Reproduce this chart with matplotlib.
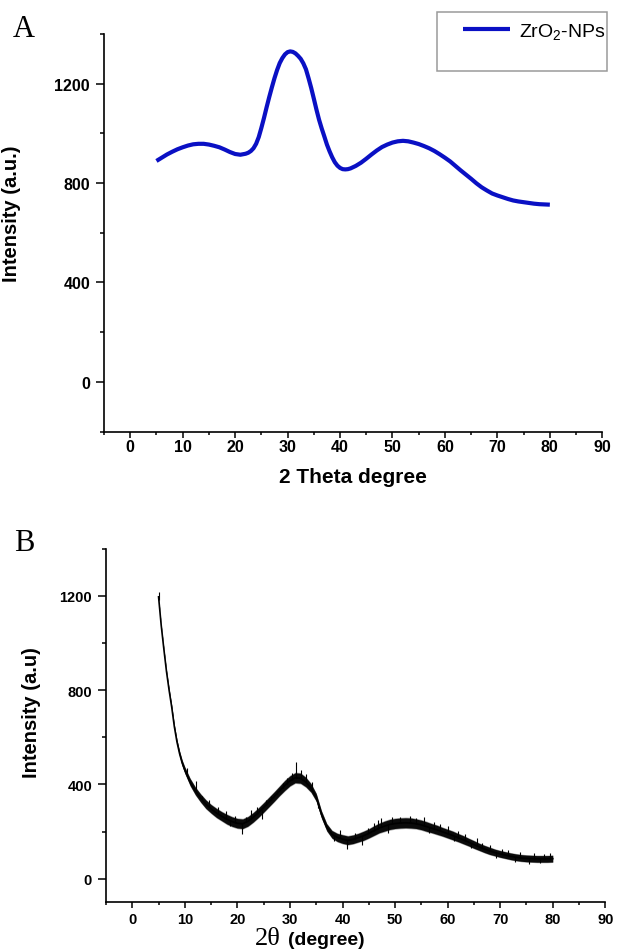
import numpy as np
import matplotlib
matplotlib.use("Agg")
import matplotlib.pyplot as plt
from matplotlib.patches import Rectangle

plt.rcParams["font.family"] = ["Liberation Sans", "DejaVu Sans"]
plt.rcParams["mathtext.default"] = "regular"

# ---- Panel A: ZrO2-NPs profile ----
two_theta_a = [5, 6, 7, 8, 9, 10, 11, 12, 13, 14, 15, 16, 17, 18, 19, 20,
               21, 22, 22.5, 23, 23.5, 24, 24.5, 25, 25.5, 26, 26.5, 27,
               27.5, 28, 28.5, 29, 29.5, 30, 30.5, 31, 31.5, 32, 32.5, 33,
               33.5, 34, 34.5, 35, 35.5, 36, 36.5, 37, 37.5, 38, 38.5, 39,
               39.5, 40, 40.5, 41, 41.5, 42, 43, 44, 45, 46, 47, 48, 49, 50,
               51, 52, 53, 54, 55, 56, 57, 58, 59, 60, 61, 62, 63, 64, 65,
               66, 67, 68, 69, 70, 71, 72, 73, 74, 75, 76, 77, 78, 79, 80]
intensity_a = [889, 902, 915, 926, 936, 944, 951, 956, 958, 958, 955, 950,
               944, 935, 925, 917, 914, 918, 922, 929, 940, 958, 985, 1022,
               1062, 1105, 1146, 1185, 1222, 1255, 1283, 1303, 1318, 1327,
               1330, 1328, 1322, 1312, 1300, 1282, 1258, 1222, 1183, 1140,
               1096, 1055, 1020, 988, 955, 928, 904, 884, 870, 861, 856, 855,
               856, 859, 869, 882, 898, 915, 931, 945, 955, 963, 968, 970,
               968, 963, 957, 949, 940, 929, 916, 902, 887, 869, 851, 834,
               817, 799, 783, 770, 758, 750, 743, 736, 730, 726, 723, 720,
               717, 715, 714, 713]

# ---- Panel B: measured pattern (centre line, noise band, spikes) ----
two_theta_b = [5.0, 5.5, 6.0, 6.5, 7.0, 7.5, 8.0, 8.5, 9.0, 9.5, 10, 11, 12,
               13, 14, 15, 16, 17, 18, 19, 20, 21, 22, 23, 24, 25, 26, 27,
               28, 29, 30, 31, 32, 33, 34, 35, 36, 37, 38, 39, 40, 41, 42,
               43, 44, 45, 46, 47, 48, 49, 50, 51, 52, 53, 54, 55, 56, 57,
               58, 59, 60, 61, 62, 63, 64, 65, 66, 67, 68, 69, 70, 71, 72,
               73, 74, 75, 76, 77, 78, 79, 80]
intensity_b = [1195, 1075, 975, 880, 800, 728, 645, 580, 530, 490, 460, 410,
               372, 342, 316, 296, 279, 265, 252, 242, 235, 233, 243, 260,
               280, 302, 325, 348, 372, 395, 415, 428, 426, 410, 385, 345,
               272, 218, 188, 175, 168, 163, 167, 174, 182, 192, 204, 215,
               223, 230, 234, 236, 237, 236, 233, 228, 221, 214, 207, 199,
               191, 183, 174, 165, 155, 145, 135, 126, 118, 111, 105, 100,
               95, 91, 88, 86, 85, 84, 84, 84, 85]
noise_half_b = [4, 4, 5, 6, 7, 8, 9, 10, 11, 12, 13, 15, 16, 17, 18, 18, 19,
                19, 20, 20, 20, 20, 20, 20, 20, 20, 20, 20, 20, 21, 21, 21,
                21, 20, 18, 16, 15, 15, 16, 17, 18, 18, 18, 18, 19, 19, 20,
                20, 21, 21, 21, 21, 21, 21, 20, 20, 20, 19, 19, 18, 18, 18,
                17, 17, 16, 16, 15, 15, 15, 14, 14, 14, 14, 14, 14, 14, 14,
                14, 14, 14, 14]
spike_x = [5.05, 10.5, 12.2, 13.2, 14.6, 16.3, 17.8, 18.5, 19.6, 20.8, 21.7,
           22.6, 23.8, 24.6, 25.4, 26.3, 27.5, 28.6, 29.4, 30.3, 31.2, 32.1,
           33.0, 34.2, 35.3, 38.4, 39.5, 40.9, 42.3, 43.7, 44.8, 46.0, 46.8,
           47.4, 48.6, 49.4, 51.0, 52.8, 54.0, 55.5, 56.4, 57.4, 58.6, 60.1,
           61.2, 62.0, 63.4, 64.5, 65.6, 66.5, 68.1, 69.2, 70.4, 71.5, 72.8,
           73.8, 75.5, 76.4, 77.6, 78.4, 79.5]
spike_y = [1215, 470, 415, 350, 335, 305, 285, 222, 265, 190, 262, 292, 303,
           255, 335, 352, 372, 405, 428, 448, 495, 460, 442, 410, 300, 160,
           205, 126, 195, 145, 215, 235, 248, 258, 195, 262, 262, 267, 258,
           260, 195, 240, 232, 222, 160, 203, 190, 130, 172, 150, 145, 88,
           128, 120, 70, 115, 62, 108, 66, 106, 108]

fig = plt.figure(figsize=(6.18, 9.53), dpi=100)
W, H = 618, 953


def px_axes(left, right, top, bottom):
    return fig.add_axes([left / W, 1 - bottom / H,
                         (right - left) / W, (bottom - top) / H])


def style_axes(ax, label_size, ylen, xlen, ypad, xpad):
    for side in ("top", "right"):
        ax.spines[side].set_visible(False)
    for side in ("left", "bottom"):
        ax.spines[side].set_linewidth(1.2)
    ax.set_xlim(-5, 90)
    ax.set_xticks(range(0, 91, 10))
    ax.set_xticks(range(-5, 91, 10), minor=True)
    ax.tick_params(axis="both", which="both", direction="out", width=1.1,
                   colors="black", labelsize=label_size)
    ax.tick_params(axis="y", which="major", length=ylen, pad=ypad)
    ax.tick_params(axis="y", which="minor", length=ylen * 0.5)
    ax.tick_params(axis="x", which="major", length=xlen, pad=xpad)
    ax.tick_params(axis="x", which="minor", length=xlen * 0.5)
    for lab in ax.get_xticklabels() + ax.get_yticklabels():
        lab.set_fontweight("bold")


# Panel A
axA = px_axes(104, 602.3, 35, 432.5)
axA.plot(two_theta_a, intensity_a, color="#0A10C4", lw=3.0,
         solid_capstyle="butt", solid_joinstyle="round", label="ZrO$_2$-NPs")
axA.set_ylim(-200, 1400)
axA.set_yticks([0, 400, 800, 1200])
axA.set_yticks([-200, 200, 600, 1000, 1400], minor=True)
style_axes(axA, 11.5, 6.0, 4.5, 4.0, 1.0)
axA.set_ylabel("Intensity (a.u.)", fontsize=14.5, fontweight="bold")
axA.yaxis.set_label_coords(-0.167, 0.55)
axA.set_xlabel("2 Theta degree", fontsize=15, fontweight="bold", va="center")
axA.xaxis.set_label_coords(0.5, -0.112)

# legend box with extra room below the entry
fig.patches.append(Rectangle((437 / W, 1 - 72 / H), 170 / W, 59 / H,
                             transform=fig.transFigure, fill=False,
                             edgecolor="#9A9A9A", lw=1.1))
axA.legend(loc="center left", bbox_to_anchor=(453 / W, 1 - 32 / H),
           bbox_transform=fig.transFigure, frameon=False, borderpad=0,
           handlelength=2.45, handletextpad=0.45, fontsize=14)

fig.text(13 / W, 1 - 37 / H, "A", family=["Liberation Serif", "DejaVu Serif"],
         fontsize=22, va="baseline", ha="left")

# Panel B
axB = px_axes(106, 605.3, 549.5, 903.3)
xb = np.array(two_theta_b)
yb = np.array(intensity_b)
hb = np.array(noise_half_b)
axB.fill_between(xb, yb - hb * 1.15, yb + hb * 1.15, color="#444444",
                 alpha=0.5, lw=0)
axB.fill_between(xb, yb - hb, yb + hb, color="#0a0a0a", lw=0)
axB.plot(xb, yb, color="black", lw=1.2)
sx = np.array(spike_x)
axB.vlines(sx, np.interp(sx, xb, yb), spike_y, color="black", lw=0.8)
axB.set_ylim(-100, 1400)
axB.set_yticks([0, 400, 800, 1200])
axB.set_yticks([200, 600, 1000, 1400], minor=True)
style_axes(axB, 10.5, 6.0, 4.5, 4.0, 2.5)
axB.set_ylabel("Intensity (a.u)", fontsize=14.5, fontweight="bold")
axB.yaxis.set_label_coords(-0.130, 0.538)

fig.text(255 / W, 1 - 945 / H, "2\u03b8", family=["Liberation Serif", "DejaVu Serif"],
         fontsize=19, va="baseline", ha="left")
fig.text(288 / W, 1 - 945 / H, "(degree)", fontsize=14, fontweight="bold",
         va="baseline", ha="left")
fig.text(14 / W, 1 - 551 / H, "B", family=["Liberation Serif", "DejaVu Serif"],
         fontsize=22, va="baseline", ha="left")

fig.savefig("out.png", dpi=100)
